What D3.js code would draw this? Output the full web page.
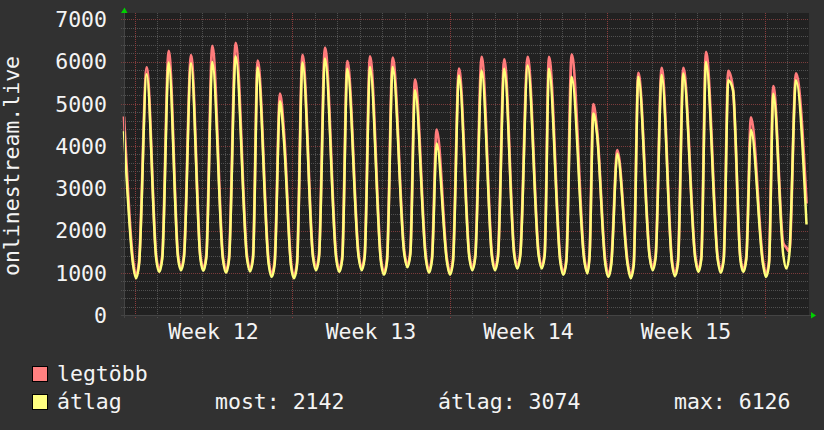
<!DOCTYPE html>
<html>
<head>
<meta charset="utf-8">
<script src="https://cdn.jsdelivr.net/npm/d3@7"></script>
<style>
html,body{margin:0;padding:0;background:#313131;}
svg{display:block;}
text{font-family:"DejaVu Sans Mono",monospace;fill:#f4f4f4;}
</style>
</head>
<body>
<svg id="chart" width="824" height="430"></svg>
<script>
// ---- data (hours since Monday 2014-03-17 00:00, week 12) ----
const hours = [-11.4, -1.8, 1.4, 4.6, 12.8, 23.0, 26.2, 29.4, 36.3, 46.2, 49.4, 52.6, 60.1, 70.0, 73.2, 76.4, 82.8,
  94.2, 97.4, 100.6, 107.7, 119.8, 123.0, 126.2, 131.2, 142.9, 146.1, 149.3, 155.0, 159.3, 166.7, 169.9, 173.1,
  179.0, 190.2, 193.4, 196.6, 203.0, 215.0, 218.2, 221.4, 226.8, 238.9, 242.1, 245.3, 251.0, 262.7, 265.9, 269.1,
  275.2, 287.6, 290.8, 294.0, 299.0, 310.7, 313.9, 317.1, 322.1, 333.1, 336.3, 339.5, 345.9, 356.9, 360.1, 363.3,
  370.1, 381.1, 384.3, 387.5, 394.2, 404.9, 408.1, 411.3, 419.2, 430.9, 434.1, 437.3, 441.9, 454.0, 457.2, 460.4,
  466.1, 479.6, 482.8, 485.2, 489.2, 493.1, 502.0, 505.2, 508.4, 514.8, 525.9, 529.1, 532.3, 537.2, 549.3, 552.5, 555.7,
  562.1, 573.1, 576.3, 579.5, 585.2, 598.0, 601.2, 604.4, 609.4, 621.9, 625.1, 628.3, 633.2, 638.2, 646.0, 649.2, 652.4,
  657.4, 670.2, 673.4, 676.6, 681.2, 691.8, 695.0, 698.2, 705.4, 716.6];
const maxValues = [4700, 1300, 930, 1250, 5860, 1380, 1080, 1400, 6250, 1420, 1110, 1430, 6150, 1420, 1100, 1420, 6370,
  1370, 1050, 1370, 6440, 1400, 1080, 1400, 6020, 1280, 960, 1280, 5240, 4300, 1240, 920, 1240,
  6160, 1430, 1110, 1430, 6330, 1390, 1070, 1390, 6010, 1430, 1110, 1430, 6120, 1320, 1000, 1320,
  6090, 1500, 1180, 1500, 5570, 1370, 1050, 1370, 4390, 1320, 1000, 1320, 5830, 1430, 1110, 1430,
  6110, 1430, 1110, 1430, 6050, 1470, 1150, 1470, 6110, 1470, 1150, 1470, 6110, 1320, 1000, 1320,
  6170, 1350, 1030, 1450, 4990, 4400, 1280, 960, 1280, 3900, 1240, 920, 1240, 5730, 1430, 1110, 1430,
  5850, 1290, 970, 1290, 5850, 1390, 1070, 1390, 6230, 1370, 1050, 1370, 5780, 5350, 1390, 1070, 1390,
  4680, 1280, 960, 1280, 5420, 1700, 1600, 1500, 5720, 2640];
const avgValues = [4350, 1200, 870, 1180, 5700, 1320, 1020, 1330, 5980, 1360, 1060, 1360, 5960, 1350, 1050, 1350, 5990,
  1300, 1000, 1300, 6126, 1330, 1030, 1330, 5860, 1200, 900, 1200, 5060, 4100, 1170, 870, 1170,
  5980, 1360, 1060, 1360, 6070, 1320, 1020, 1320, 5830, 1360, 1060, 1360, 5870, 1250, 950, 1250,
  5870, 1430, 1130, 1430, 5320, 1300, 1000, 1300, 4060, 1250, 950, 1250, 5670, 1360, 1060, 1360,
  5790, 1360, 1060, 1360, 5830, 1400, 1100, 1400, 5910, 1400, 1100, 1400, 5830, 1250, 950, 1250,
  5640, 1280, 980, 1380, 4770, 4280, 1200, 900, 1200, 3820, 1170, 870, 1170, 5640, 1360, 1060, 1360,
  5680, 1220, 920, 1220, 5720, 1320, 1020, 1320, 5990, 1300, 1000, 1300, 5560, 5320, 1320, 1020, 1320,
  4380, 1200, 900, 1200, 5240, 1420, 1100, 1420, 5560, 2142];
const seriesNames = ["legtöbb", "átlag"];
const seriesColors = ["#ff7b7b", "#ffff7b"];
const yTicks = [0, 1000, 2000, 3000, 4000, 5000, 6000, 7000];
const yMinorStep = 200;
const weekLabels = ["Week 12", "Week 13", "Week 14", "Week 15"];
const statLabels = ["most: 2142", "átlag: 3074", "max: 6126"];
const yTitle = "onlinestream.live";

(function () {
const H = 3600e3;
const base = Date.UTC(2014, 2, 17);
const t = h => new Date(base + h * H);
const pL = 124, pR = 809, pT = 13, pB = 315;
const svg = d3.select("#chart");

const x = d3.scaleUtc().domain([t(-11.41), t(719.25)]).range([pL, pR]);
const y = d3.scaleLinear().domain([0, 7150]).range([pB, pT]);

svg.append("rect").attr("width", 824).attr("height", 430).attr("fill", "#313131");
svg.append("rect").attr("x", pL).attr("y", pT).attr("width", pR - pL).attr("height", pB - pT).attr("fill", "#212121");

const grid = svg.append("g").attr("shape-rendering", "crispEdges").attr("stroke-width", 1).attr("stroke-dasharray", "1,1");
const minorY = d3.range(yMinorStep, 7001, yMinorStep).filter(v => v % 1000 !== 0);
grid.selectAll(".hmin").data(minorY).join("line")
  .attr("x1", pL - 3).attr("x2", pR)
  .attr("y1", d => Math.round(y(d)) + 0.5).attr("y2", d => Math.round(y(d)) + 0.5)
  .attr("stroke", "#505050");
const days = d3.utcDay.range(x.domain()[0], x.domain()[1]).filter(d => d.getUTCDay() !== 1);
grid.selectAll(".vmin").data(days).join("line")
  .attr("x1", d => Math.round(x(d)) + 0.5).attr("x2", d => Math.round(x(d)) + 0.5)
  .attr("y1", pT).attr("y2", pB + 3)
  .attr("stroke", "#505050");
grid.selectAll(".hmaj").data(yTicks).join("line")
  .attr("x1", pL - 3).attr("x2", pR)
  .attr("y1", d => Math.round(y(d)) + 0.5).attr("y2", d => Math.round(y(d)) + 0.5)
  .attr("stroke", "#7a3c3c");
const mondays = d3.utcMonday.range(x.domain()[0], x.domain()[1]);
grid.selectAll(".vmaj").data(mondays).join("line")
  .attr("x1", d => Math.round(x(d)) + 0.5).attr("x2", d => Math.round(x(d)) + 0.5)
  .attr("y1", pT).attr("y2", pB + 3)
  .attr("stroke", "#8a3c3c");

const pts = hours.map((h, i) => ({ t: t(h), max: maxValues[i], avg: avgValues[i] }));
const line = key => d3.line().x(d => x(d.t)).y(d => y(d[key])).curve(d3.curveMonotoneX);
svg.append("path").datum(pts).attr("d", line("max")).attr("fill", "none")
  .attr("stroke", seriesColors[0]).attr("stroke-width", 2.8).attr("stroke-linejoin", "round");
svg.append("path").datum(pts).attr("d", line("avg")).attr("fill", "none")
  .attr("stroke", seriesColors[1]).attr("stroke-width", 2.5).attr("stroke-linejoin", "round");

const ax = svg.append("g").attr("shape-rendering", "crispEdges");
ax.append("line").attr("x1", pL - 3).attr("x2", pR + 3).attr("y1", pB + 0.5).attr("y2", pB + 0.5).attr("stroke", "#444");
ax.append("line").attr("x1", pL + 0.5).attr("x2", pL + 0.5).attr("y1", pB + 3).attr("y2", pT - 2).attr("stroke", "#444");
svg.append("path").attr("d", `M${pL - 3},${pT} L${pL + 3.5},${pT} L${pL + 0.5},${pT - 5.5} Z`).attr("fill", "#00d000");
svg.append("path").attr("d", `M${pR + 2},${pB - 3} L${pR + 2},${pB + 3.5} L${pR + 7},${pB + 0.5} Z`).attr("fill", "#00d000");

const fs = 21.5;
svg.selectAll(".yl").data(yTicks).join("text")
  .attr("x", 107).attr("y", d => y(d)).attr("dy", "0.36em")
  .attr("text-anchor", "end").attr("font-size", fs).text(d => d);

svg.selectAll(".wl").data(mondays.slice(0, weekLabels.length)).join("text")
  .attr("x", d => x(d3.utcHour.offset(d, 84))).attr("y", 339)
  .attr("text-anchor", "middle").attr("font-size", fs).text((d, i) => weekLabels[i]);

svg.append("text").attr("transform", "translate(18.5,166) rotate(-90)")
  .attr("text-anchor", "middle").attr("font-size", fs).text(yTitle);

const legY = [381, 409];
seriesNames.forEach((n, i) => {
  svg.append("rect").attr("x", 32.5).attr("y", legY[i] - 14.5).attr("width", 15).attr("height", 15)
    .attr("fill", i === 0 ? "#ff8080" : "#ffff80").attr("stroke", "#000").attr("stroke-width", 1);
  svg.append("text").attr("x", 57).attr("y", legY[i]).attr("font-size", fs).text(n);
});
const statX = [215, 438, 674];
statLabels.forEach((s, i) => {
  svg.append("text").attr("x", statX[i]).attr("y", legY[1]).attr("font-size", fs).text(s);
});
})();
</script>
</body>
</html>
